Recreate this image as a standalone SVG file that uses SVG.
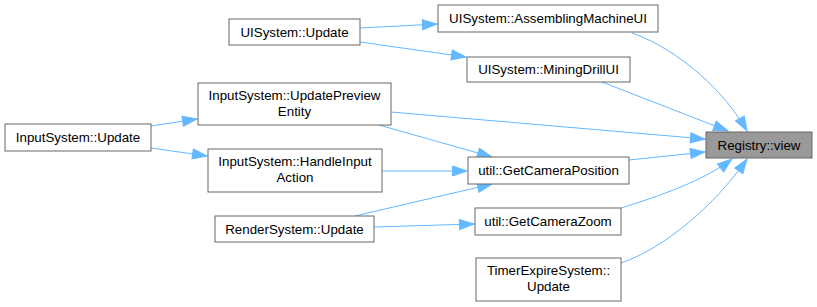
<svg xmlns="http://www.w3.org/2000/svg" width="817" height="307" viewBox="0 0 817 307">
  <style>
    .node rect { fill: #ffffff; stroke: #666666; stroke-width: 1; }
    .node.focus rect { fill: #999999; }
    .node text { font-family: "Liberation Sans", Arial, sans-serif; font-size: 13.33px; fill: #000000; text-anchor: middle; }
    .edge { fill: none; stroke: #63b8ff; stroke-width: 1; marker-end: url(#arrow); }
  </style>
  <defs>
    <marker id="arrow" markerUnits="userSpaceOnUse" markerWidth="16" markerHeight="12" refX="0" refY="0" orient="auto" overflow="visible">
      <path d="M-14.5,-5 L0,0 L-14.5,5 Z" fill="#63b8ff" stroke="#63b8ff" stroke-width="1"/>
    </marker>
  </defs>
  <rect width="817" height="307" fill="#ffffff"/>

  <g id="connectors">
    <path class="edge" d="M360,28 L437,24"/>
    <path class="edge" d="M360,42 L466,57"/>
    <path class="edge" d="M632,33 C680,50 725,92 747,131"/>
    <path class="edge" d="M602,82 L728,131"/>
    <path class="edge" d="M391,112 L705,139"/>
    <path class="edge" d="M379,125 L492,157"/>
    <path class="edge" d="M151,126 L197,119"/>
    <path class="edge" d="M151,148 L207,156"/>
    <path class="edge" d="M382,171 L467,171"/>
    <path class="edge" d="M629,160 L705,152"/>
    <path class="edge" d="M355,216 L492,184"/>
    <path class="edge" d="M374,227 L474,224"/>
    <path class="edge" d="M621,208 C660,196 705,180 732,159"/>
    <path class="edge" d="M621,263 C665,248 715,205 747,159"/>
  </g>

  <g id="registry_view" class="node focus">
    <rect x="706" y="132" width="106" height="26"/>
    <text x="759" y="150">Registry::view</text>
  </g>
  <g id="uisystem_assemblingmachineui" class="node">
    <rect x="438" y="5" width="220" height="27"/>
    <text x="548" y="23">UISystem::AssemblingMachineUI</text>
  </g>
  <g id="uisystem_miningdrillui" class="node">
    <rect x="467" y="57" width="163" height="25"/>
    <text x="548.5" y="74">UISystem::MiningDrillUI</text>
  </g>
  <g id="uisystem_update" class="node">
    <rect x="229" y="19" width="131" height="26"/>
    <text x="294.5" y="37">UISystem::Update</text>
  </g>
  <g id="inputsystem_updatepreviewentity" class="node">
    <rect x="198" y="83" width="193" height="42"/>
    <text x="294.5" y="100">InputSystem::UpdatePreview</text>
    <text x="294.5" y="116">Entity</text>
  </g>
  <g id="inputsystem_update" class="node">
    <rect x="5" y="124" width="146" height="27"/>
    <text x="78" y="142">InputSystem::Update</text>
  </g>
  <g id="inputsystem_handleinputaction" class="node">
    <rect x="208" y="149" width="174" height="43"/>
    <text x="295" y="166">InputSystem::HandleInput</text>
    <text x="295" y="182">Action</text>
  </g>
  <g id="rendersystem_update" class="node">
    <rect x="215" y="216" width="159" height="26"/>
    <text x="294.5" y="234">RenderSystem::Update</text>
  </g>
  <g id="util_getcameraposition" class="node">
    <rect x="468" y="157" width="161" height="27"/>
    <text x="548.5" y="175">util::GetCameraPosition</text>
  </g>
  <g id="util_getcamerazoom" class="node">
    <rect x="475" y="208" width="146" height="27"/>
    <text x="548" y="226">util::GetCameraZoom</text>
  </g>
  <g id="timerexpiresystem_update" class="node">
    <rect x="476" y="258" width="145" height="43"/>
    <text x="548.5" y="275">TimerExpireSystem::</text>
    <text x="548.5" y="291">Update</text>
  </g>
</svg>
